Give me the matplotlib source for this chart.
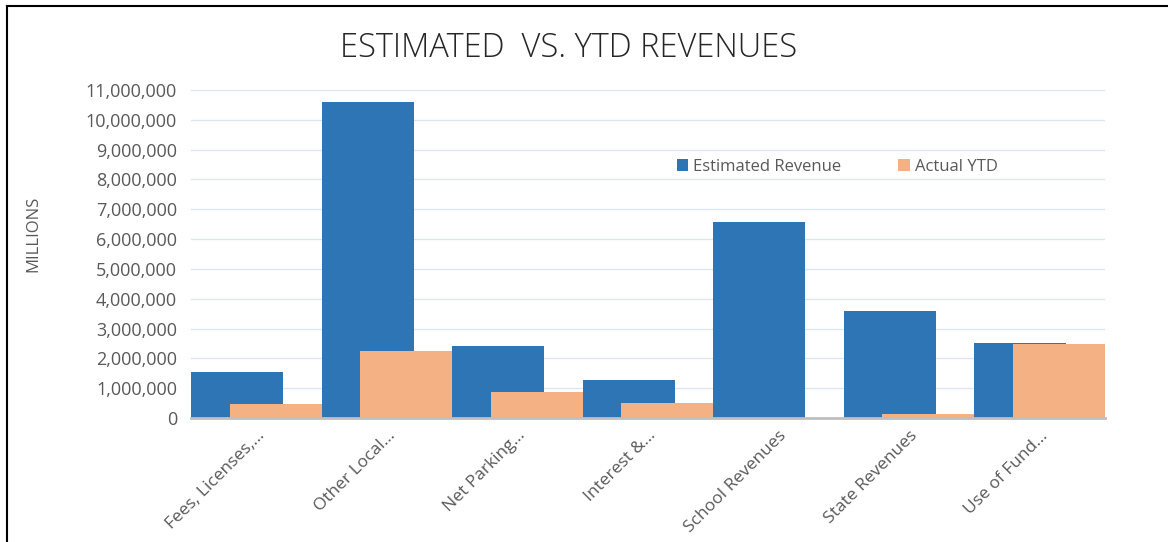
import numpy as np
import matplotlib.pyplot as plt
from matplotlib.lines import Line2D
from matplotlib.ticker import FuncFormatter

categories = ["Fees, Licenses,...", "Other Local...", "Net Parking...", "Interest &...",
              "School Revenues", "State Revenues", "Use of Fund..."]
estimated_revenue = [1550000, 10600000, 2420000, 1280000, 6580000, 3600000, 2520000]
actual_ytd = [470000, 2240000, 880000, 490000, 0, 150000, 2480000]

blue = "#2E75B6"
orange = "#F4B183"
text_grey = "#595959"

plt.rcParams['font.family'] = ['Open Sans', 'DejaVu Sans']

fig = plt.figure(figsize=(11.68, 5.42), dpi=100)
ax = fig.add_axes([191 / 1168, 1 - 418 / 542, (1105 - 191) / 1168, (418 - 90) / 542])

x = np.arange(len(categories))
w = 0.705
ax.bar(x - 0.1475, estimated_revenue, width=w, color=blue, label="Estimated Revenue", zorder=2)
ax.bar(x + 0.1475, actual_ytd, width=w, color=orange, label="Actual YTD", zorder=3)

ax.set_xlim(-0.5, len(categories) - 0.5)
ax.set_ylim(0, 11000000)
ax.set_yticks(np.arange(0, 11000001, 1000000))
ax.yaxis.set_major_formatter(FuncFormatter(lambda v, p: f"{int(v):,}"))
ax.grid(axis='y', color="#DCE6F2", linewidth=1, zorder=0)
ax.set_axisbelow(True)

for s in ['top', 'right', 'left']:
    ax.spines[s].set_visible(False)
ax.spines['bottom'].set_color("#BFBFBF")
ax.spines['bottom'].set_linewidth(2)
ax.spines['bottom'].set_zorder(4)

ax.tick_params(axis='y', length=0, colors=text_grey, labelsize=13, pad=10)
ax.tick_params(axis='x', length=0, colors=text_grey, labelsize=12.5, pad=7)
ax.set_xticks(x)
ax.set_xticklabels(categories, rotation=45, ha='right', rotation_mode='anchor')

ax.set_ylabel("MILLIONS", color=text_grey, fontsize=12)
ax.yaxis.set_label_coords(-0.164, 0.56)

fig.text(0.487, 0.911, "ESTIMATED  VS. YTD REVENUES", ha='center', va='center',
         fontsize=23.5, color="#262626", fontweight='light')

ax.legend(loc='center', bbox_to_anchor=(0.707, 0.765), ncol=2, frameon=False,
          fontsize=12, labelcolor=text_grey, handlelength=0.7, handleheight=0.7,
          handletextpad=0.3, columnspacing=3.4)

# chart frame: only top and left edges are visible in the source image
fig.add_artist(Line2D([7 / 1168, 1], [1 - 6 / 542, 1 - 6 / 542], transform=fig.transFigure,
                      color="black", linewidth=1.5))
fig.add_artist(Line2D([7 / 1168, 7 / 1168], [0, 1 - 6 / 542], transform=fig.transFigure,
                      color="black", linewidth=1.5))

fig.savefig("out.png", dpi=100)
